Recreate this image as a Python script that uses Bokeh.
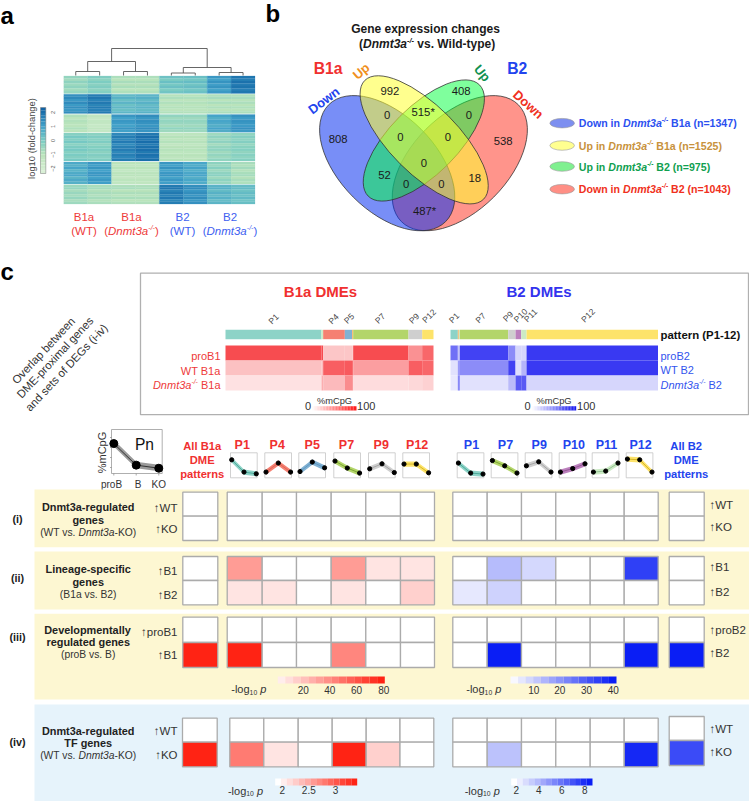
from bokeh.plotting import figure
from bokeh.embed import file_html
from bokeh.resources import INLINE
from bokeh.core.properties import value
from bokeh.models import Range1d

# ------------------------------ DATA ------------------------------
# panel a: log10 fold-change, six gene clusters x eight samples
fc_clusters = [
    [-0.5, -0.2, -0.9, -0.9, 0.1, 0.2, 1.1, 1.8],
    [1.3, 1.7, 0.4, 0.5, -1.0, -1.0, -0.9, -0.9],
    [-1.0, -1.4, 1.1, 1.3, -0.5, -0.5, 0.8, 1.2],
    [-0.1, -0.2, 1.6, 1.9, -1.1, -1.1, -0.5, -0.3],
    [0.7, 1.1, -1.2, -1.2, 1.1, 0.8, -0.4, -0.8],
    [-0.6, -0.8, -0.9, -0.9, 1.7, 1.3, 0.5, 0.3],
]
fc_cluster_sizes = [53, 58, 54, 83, 66, 58]
# row-to-row deviation inside each cluster, top to bottom
fc_row_dev = [
    [0.10, -0.12, 0.18, -0.05, 0.14, -0.15, 0.06],
    [0.05, 0.20, -0.10, 0.15, -0.18, 0.08, -0.14, 0.12],
    [0.15, -0.10, 0.12, 0.02, -0.14, 0.16, -0.08],
    [-0.10, 0.14, -0.04, 0.18, -0.15, 0.06, 0.16, -0.12, 0.10, -0.06, 0.14],
    [0.12, -0.08, 0.20, -0.14, 0.06, 0.16, -0.16, 0.10, -0.05],
    [0.06, 0.16, -0.12, 0.10, -0.08, 0.14, -0.14, 0.04],
]
dendro_pair_heights = [4, 4, 2.5, 3]
dendro_group_heights = [14, 8]
dendro_root_height = 27
fc_ticks = [2, 1, 0, -1, -2]
sample_groups = [("B1a", "(WT)"), ("B1a", "KO"), ("B2", "(WT)"), ("B2", "KO")]

# panel b: Venn counts
venn_counts = ["992", "408", "0", "515*", "0", "808", "0", "0", "538", "0", "52", "18", "0", "0", "487*"]
venn_legend = [
    ("Down in ", " B1a (n=1347)"),
    ("Up in ", " B1a (n=1525)"),
    ("Up in ", " B2 (n=975)"),
    ("Down in ", " B2 (n=1043)"),
]

# panel c: DME heatmaps, segment sizes and %mCpG/100 for proB, WT, KO
b1a_seg_sizes = [288, 5, 65, 22, 3, 166, 41, 34]
b1a_seg_names = ["P1", "x", "P4", "P5", "o", "P7", "P9", "P12"]
b1a_heat_proB = [0.78, 0.78, 0.25, 0.25, 0.25, 0.78, 0.48, 0.66]
b1a_heat_WT = [0.27, 0.30, 0.70, 0.72, 0.72, 0.42, 0.70, 0.66]
b1a_heat_KO = [0.13, 0.35, 0.30, 0.50, 0.50, 0.15, 0.17, 0.20]
b2_seg_sizes = [22, 3, 3, 145, 22, 17, 16, 394]
b2_seg_names = ["P1", "o", "x", "P7", "P9", "P10", "P11", "P12"]
b2_heat_proB = [0.62, 0.30, 0.30, 0.82, 0.50, 0.18, 0.18, 0.86]
b2_heat_WT = [0.13, 0.50, 0.50, 0.50, 0.82, 0.14, 0.32, 0.86]
b2_heat_KO = [0.10, 0.60, 0.60, 0.13, 0.30, 0.72, 0.72, 0.18]

# methylation pattern profiles (proB, B, KO), relative height
Pn_profile = [0.68, 0.19, 0.12]
b1a_patterns = ["P1", "P4", "P5", "P7", "P9", "P12"]
b1a_profiles = [[.72, .23, .16], [.23, .59, .23], [.25, .63, .40], [.67, .39, .19], [.36, .56, .21], [.55, .55, .20]]
b2_patterns = ["P1", "P7", "P9", "P10", "P11", "P12"]
b2_profiles = [[.59, .19, .15], [.69, .48, .19], [.48, .64, .23], [.23, .37, .56], [.23, .27, .59], [.75, .72, .23]]

# -log10 p overlap tables: rows x (All, patterns...) ; scale noted per section
ii_b1a = [[0, 36, 0, 0, 36, 10, 10], [0, 10, 10, 0, 10, 0, 17]]
ii_b2 = [[0, 12, 7, 0, 0, 34, 0], [4, 8, 0, 0, 0, 0, 0]]
iii_b1a = [[0, 0, 0, 0, 0, 0, 0], [80, 80, 0, 0, 44, 0, 0]]
iii_b2 = [[0, 0, 0, 0, 0, 0, 0], [0, 40, 0, 0, 0, 40, 40]]
iv_b1a = [[2, 2, 2, 2, 2, 2, 2], [3.4, 2.84, 2.17, 2, 3.4, 2.3, 2]]
iv_b2 = [[2, 2, 2, 2, 2, 2, 2], [2, 3.9, 2, 2, 2, 8.7, 7.6]]
scale_iii_red_ticks = [20, 40, 60, 80]
scale_iii_blue_ticks = [10, 20, 30, 40]
scale_iv_red_ticks = [2, 2.5, 3]
scale_iv_blue_ticks = [2, 4, 6, 8]

# ------------------------------ STYLE ------------------------------
FONT = "Liberation Sans"
RED = "#EE3A3A"
BLUE = "#3344F0"
REDC = (255, 35, 20)
BLUEC = (10, 30, 245)
GRID = "#ABABAB"
PCOL = {"P1": "#8DD3C7", "P4": "#F58072", "P5": "#80B1D3", "P7": "#B3D56A", "P9": "#CFCFCF",
        "P10": "#BC80BD", "P11": "#CCEBC5", "P12": "#FDE36A", "o": "#FDB462", "x": "#CCEBC5"}
PDARK = {"P1": "#3B9E8E", "P4": "#D9604F", "P5": "#5590BC", "P7": "#6E9A22", "P9": "#9A9A9A",
         "P10": "#8A4C8C", "P11": "#86B886", "P12": "#C9A914"}

W_REG = dict(zip("abcdefghijklmnopqrstuvwxyz", [556,556,500,556,556,278,556,556,222,222,500,222,833,556,556,556,556,333,500,278,556,500,722,500,500,500]))
W_REG.update(dict(zip("ABCDEFGHIJKLMNOPQRSTUVWXYZ", [667,667,722,722,667,611,778,722,278,500,667,556,833,722,778,667,778,722,667,611,722,667,944,667,667,611])))
W_BOLD = dict(zip("abcdefghijklmnopqrstuvwxyz", [556,611,556,611,556,333,611,611,278,278,556,278,889,611,611,611,611,389,556,333,611,556,778,556,556,500]))
W_BOLD.update(dict(zip("ABCDEFGHIJKLMNOPQRSTUVWXYZ", [722,722,722,722,667,611,778,722,278,556,722,611,833,722,778,667,778,722,667,611,722,667,944,667,667,611])))
for d in (W_REG, W_BOLD):
    d.update({c: 556 for c in "0123456789"})
    d.update({" ": 278, "(": 333, ")": 333, "-": 333, "/": 278, ".": 278, "=": 584, "*": 389, "%": 889})


def tw(s, size, bold=False):
    t = W_BOLD if bold else W_REG
    return sum(t.get(c, 556) for c in s) * size / 1000


p = figure(width=749, height=801, x_range=Range1d(0, 749), y_range=Range1d(801, 0),
           output_backend="svg", toolbar_location=None, min_border=0,
           x_axis_location=None, y_axis_location=None)
p.grid.visible = False
p.outline_line_color = None
p.background_fill_color = "white"
p.border_fill_color = "white"


def T(x, y, s, size=11, color="#222222", bold=False, italic=False, align="center", angle=0, base="middle"):
    st = "bold" if bold else "normal"
    if italic:
        st = "bold italic" if bold else "italic"
    p.text([x], [y], text=[s], text_font=value(FONT), text_font_size=f"{size}px", text_color=color,
           text_font_style=st, text_align=align, text_baseline=base, angle=angle, angle_units="deg")


def rich(x, y, parts, size=11, color="#222222", bold=False, align="left"):
    def sz(kind):
        return size * 0.62 if kind in ("sup", "sub") else size
    total = sum(tw(s, sz(k), bold) for s, k in parts)
    cur = x - (total if align == "right" else total / 2 if align == "center" else 0)
    for s, k in parts:
        dy = -size * 0.3 if k == "sup" else size * 0.3 if k == "sub" else 0
        lead = len(s) - len(s.lstrip(" "))
        if s.strip():
            T(cur + tw(" " * lead, sz(k), bold), y + dy, s.strip(), sz(k), color, bold,
              italic=(k == "i" or k == "sup"), align="left")
        cur += tw(s, sz(k), bold)


def box(l, r, t, b, fill=None, line=None, lw=1.0):
    p.quad(left=[l], right=[r], top=[t], bottom=[b], fill_color=fill, line_color=line, line_width=lw,
           fill_alpha=1 if fill else 0)


def lerp(c, f):
    f = max(0, min(1, f))
    return "#%02x%02x%02x" % tuple(int(round(255 + (k - 255) * f)) for k in c)


FC_ANCH = [(-2.5, (224, 243, 219)), (-1, (186, 228, 188)), (0, (123, 204, 196)), (1, (67, 162, 202)), (2.5, (8, 88, 158))]


def fc_color(v):
    for (a, ca), (b, cb) in zip(FC_ANCH, FC_ANCH[1:]):
        if v <= b:
            f = max(0, (v - a) / (b - a))
            return "#%02x%02x%02x" % tuple(int(ca[i] + (cb[i] - ca[i]) * f) for i in range(3))
    return "#08589e"


# ------------------------------ panel letters ------------------------------
T(0, 15, "a", 24, "#000000", True, align="left")
T(265, 13, "b", 24, "#000000", True, align="left")
T(0, 271, "c", 24, "#000000", True, align="left")

# ------------------------------ panel a ------------------------------
HX0, HCOL = 63.3, 23.9
HY0, HY1 = 75.0, 204.0
total = sum(fc_cluster_sizes)
y = HY0
for row, n, dev in zip(fc_clusters, fc_cluster_sizes, fc_row_dev):
    h = (HY1 - HY0) * n / total
    sub = (h - 0.8) / len(dev)
    for j, v in enumerate(row):
        for k, d in enumerate(dev):
            c = fc_color(v + d * (1 if j % 2 == 0 else 0.8))
            box(HX0 + j * HCOL, HX0 + (j + 1) * HCOL, y + 0.4 + k * sub, y + 0.4 + (k + 1) * sub, fill=c, line=c, lw=0.2)
    y += h
leaf = [HX0 + (j + 0.5) * HCOL for j in range(8)]
BASE = 75.0
pair_x, pair_y = [], []
for i, h in enumerate(dendro_pair_heights):
    a, b = leaf[2 * i], leaf[2 * i + 1]
    yy = BASE - h
    p.line([a, a, b, b], [BASE, yy, yy, BASE], line_color="#555555", line_width=0.9)
    pair_x.append((a + b) / 2)
    pair_y.append(yy)
grp_x, grp_y = [], []
for i, h in enumerate(dendro_group_heights):
    a, b = pair_x[2 * i], pair_x[2 * i + 1]
    yy = BASE - h
    p.line([a, a, b, b], [pair_y[2 * i], yy, yy, pair_y[2 * i + 1]], line_color="#555555", line_width=0.9)
    grp_x.append((a + b) / 2)
    grp_y.append(yy)
yy = BASE - dendro_root_height
p.line([grp_x[0], grp_x[0], grp_x[1], grp_x[1]], [grp_y[0], yy, yy, grp_y[1]], line_color="#555555", line_width=0.9)

CB_T, CB_B = 107.0, 173.0
N = 24
for i in range(N):
    v = 2.36 - 4.72 * (i + 0.5) / N
    box(40, 45.3, CB_T + (CB_B - CB_T) * i / N, CB_T + (CB_B - CB_T) * (i + 1) / N, fill=fc_color(v))
box(40, 45.3, CB_T, CB_B, line="#777777", lw=0.5)
for t in fc_ticks:
    T(52, 140 - t * 14, str(t).replace("-", "\u2212"), 5.5, "#555555", angle=90)
T(31, 138, "log10 (fold-change)", 9.4, "#444444", angle=90)
for (g, sub), cx in zip(sample_groups, [83.5, 131, 182, 229.5]):
    col = RED if g == "B1a" else "#4060F0"
    T(cx, 216, g, 11.5, col)
    if sub == "KO":
        rich(cx, 230.5, [("(", "n"), ("Dnmt3a", "i"), ("-/-", "sup"), (")", "n")], 11.5, col, align="center")
    else:
        T(cx, 230.5, sub, 11.5, col)

# ------------------------------ panel b ------------------------------
VX = lambda z: 250 + z / 3
VY = lambda z: z / 3
venn_shape = [  # zoomed-reference geometry: cx, cy, major, minor, angle, colour, alpha
    (628, 488, 248, 144, 45, "#FF2A18", 0.5),
    (410, 488, 248, 144, -45, "#0A32F0", 0.55),
    (520, 420, 236, 102, 45, "#00FF3C", 0.5),
    (521, 418, 252, 102, -45, "#FFFF32", 0.55),
]
for cx, cy, a, b, ang, c, al in venn_shape:
    p.ellipse([VX(cx)], [VY(cy)], width=2 * a / 3, height=2 * b / 3, angle=ang, angle_units="deg",
              fill_color=c, fill_alpha=al, line_color="#333333", line_width=0.8)
venn_pos = [(418, 272), (632, 272), (410, 343), (518, 333), (655, 343), (263, 415), (450, 408), (592, 408),
            (758, 420), (520, 487), (402, 522), (673, 533), (467, 550), (573, 550), (522, 630)]
for s, (x, y) in zip(venn_counts, venn_pos):
    T(VX(x), VY(y), s, 11.3, "#1a1a1a")
T(VX(525), VY(85), "Gene expression changes", 12, "#1a1a1a", True)
rich(VX(530), VY(130), [("(", "n"), ("Dnmt3a", "i"), ("-/-", "sup"), (" vs. Wild-type)", "n")], 12, "#1a1a1a", True, "center")
T(VX(233), VY(205), "B1a", 15.7, "#F03030", True)
T(VX(800), VY(205), "B2", 15.7, "#2244EE", True)
T(VX(332), VY(212), "Up", 13, "#F09020", True, angle=40)
T(VX(695), VY(218), "Up", 13, "#109050", True, angle=-50)
T(VX(220), VY(300), "Down", 13, "#2244EE", True, angle=37)
T(VX(833), VY(312), "Down", 13, "#F03020", True, angle=-42)
leg_cols = ["#2B50F0", "#C8923C", "#10A050", "#F03020"]
leg_fill = ["#7D8FF0", "#FFFF90", "#80F090", "#FF8F85"]
for (a, b), c, f, z in zip(venn_legend, leg_cols, leg_fill, [368, 435, 498, 566]):
    p.ellipse([VX(935)], [VY(z)], width=24.5, height=9.5, fill_color=f, line_color="#999999", line_width=0.6)
    rich(VX(985), VY(z), [(a, "n"), ("Dnmt3a", "i"), ("-/-", "sup"), (b, "n")], 10.6, c, True)

# ------------------------------ panel c, DME box ------------------------------
box(140, 748, 272.7, 414.2, fill="white", line="#B0B0B0", lw=1.3)
T(320, 290.7, "B1a DMEs", 15, "#F03030", True)
T(538.5, 290.7, "B2 DMEs", 15, "#3333EE", True)
for s, (x, y) in zip(["Overlap between", "DME-proximal genes", "and sets of DEGs (i-iv)"], [(43, 350), (54.5, 357), (66, 367)]):
    T(x, y, s, 11.4, "#333333", angle=47)


def dme(x0, x1, sizes, names, rows, end):
    tot = sum(sizes)
    cur = x0
    for i, (n, name) in enumerate(zip(sizes, names)):
        nx = cur + (x1 - x0) * n / tot
        box(cur, nx, 329.3, 338.7, fill=PCOL[name])
        for r, (vals, ya) in enumerate(zip(rows, [345, 360, 375])):
            box(cur, nx, ya, ya + 15, fill=lerp(end, vals[i]))
        cur = nx


dme(225, 433, b1a_seg_sizes, b1a_seg_names, [b1a_heat_proB, b1a_heat_WT, b1a_heat_KO], (245, 25, 30))
dme(450, 657.5, b2_seg_sizes, b2_seg_names, [b2_heat_proB, b2_heat_WT, b2_heat_KO], (25, 25, 240))
for s, x, y in zip(["P1", "P4", "P5", "P7", "P9", "P12"], [273, 333, 348.5, 379.5, 413.5, 428.5], [318.5, 318.5, 318, 318, 318, 315.5]):
    T(x, y, s, 8.5, "#444444", angle=45)
for s, x, y in zip(["P1", "P7", "P9", "P10", "P11", "P12"], [453.5, 480, 507.5, 520, 530, 587.5], [317.5, 317.5, 316, 315, 315, 315]):
    T(x, y, s, 8.5, "#444444", angle=45)
T(220, 355.5, "proB1", 11, "#EE3A3A", align="right")
T(220, 370, "WT B1a", 11, "#EE3A3A", align="right")
rich(220, 384.5, [("Dnmt3a", "i"), ("-/-", "sup"), (" B1a", "n")], 11, "#EE3A3A", align="right")
T(660, 355, "proB2", 11, "#3355EE", align="left")
T(660, 369, "WT B2", 11, "#3355EE", align="left")
rich(660, 384, [("Dnmt3a", "i"), ("-/-", "sup"), (" B2", "n")], 11, "#3355EE")
T(660, 334.5, "pattern (P1-12)", 11.4, "#111111", True, align="left")
for x0, x1, lab0, lab1, end, lx in [(311.7, 356, 307.5, 365.7, (255, 20, 20), 334), (531.7, 575.7, 527, 585.7, (20, 20, 240), 553.5)]:
    for i in range(30):
        box(x0 + (x1 - x0) * i / 30, x0 + (x1 - x0) * (i + 1) / 30, 405.7, 410, fill=lerp(end, (i + 0.5) / 30))
    T(lab0, 405, "0", 11, "#333333")
    T(lab1, 405, "100", 11, "#333333")
    T(lx, 400, "%mCpG", 9.3, "#333333")

# ------------------------------ pattern header ------------------------------
p.line([111, 111, 161.7, 161.7], [473, 429, 429, 473], line_color="#9A9A9A", line_width=0.8)
p.line([111, 161.7], [473, 473], line_color="#9A9A9A", line_width=0.8)
px = [113.3, 135.7, 158.3]
py = [473 - 44 * v for v in Pn_profile]
p.patch(px + px[::-1], [v - 3.5 for v in py] + [v + 3 for v in py[::-1]], fill_color="#9A9A9A", line_color=None)
p.line(px, py, line_color="#333333", line_width=1)
p.scatter(px, py, size=8, fill_color="#000000", line_color="#000000")
p.segment(x0=[109.5] * 4, y0=[437, 447, 457, 467], x1=[111] * 4, y1=[437, 447, 457, 467], line_color="#888888", line_width=0.7)
p.segment(x0=px, y0=[473] * 3, x1=px, y1=[475] * 3, line_color="#888888", line_width=0.7)
T(144, 444, "Pn", 15.6, "#111111")
T(101, 452, "%mCpG", 11, "#333333", angle=90)
for s, x in zip(["proB", "B", "KO"], [111, 137.7, 158.3]):
    T(x, 483.5, s, 10, "#333333")


def mini(x0, prof, name):
    xs = [x0 + 1.2, x0 + 13.5, x0 + 25.8]
    ys = [477.3 - 25 * v for v in prof]
    box(x0, x0 + 26.7, 452.3, 477.3, fill="white", line="#BDBDBD", lw=0.7)
    p.patch(xs + xs[::-1], [v - 2.6 for v in ys] + [v + 2.6 for v in ys[::-1]], fill_color=PCOL[name], line_color=None)
    p.line(xs, ys, line_color=PDARK[name], line_width=0.8)
    p.scatter(xs, ys, size=4.2, fill_color="#000000", line_color="#000000")


for n, prof, x0, tx in zip(b1a_patterns, b1a_profiles, [230, 264.3, 298.3, 333.3, 368, 402.3], [241.7, 276.7, 311.7, 346, 380.7, 416.7]):
    mini(x0, prof, n)
    T(tx, 444, n, 12.5, "#F03030", True)
for n, prof, x0, tx in zip(b2_patterns, b2_profiles, [456.7, 490.7, 524.7, 558.7, 591.7, 625.7], [471, 505, 538.7, 573.3, 606, 640]):
    mini(x0, prof, n)
    T(tx, 444, n, 12.5, "#2244EE", True)
for s, y in zip(["All B1a", "DME", "patterns"], [445, 459.5, 473.5]):
    T(201.7, y, s, 11.2, "#F03030", True)
for s, y in zip(["All B2", "DME", "patterns"], [445, 459.5, 473.5]):
    T(685.7, y, s, 11.2, "#2244EE", True)

# ------------------------------ bands ------------------------------
BAND_Y = "#FDF7D2"
BAND_B = "#E6F3FB"
for t, b, c in [(489, 546.7, BAND_Y), (551, 609, BAND_Y), (613.3, 699, BAND_Y), (704, 801, BAND_B)]:
    box(34, 749, t, b, fill=c)


def cell_row(edges, ytop, ymid, ybot, row_a, row_b, norm, end):
    for i in range(len(edges) - 1):
        for v, (ya, yb) in zip((row_a[i], row_b[i]), ((ytop, ymid), (ymid, ybot))):
            box(edges[i], edges[i + 1], ya, yb, fill=lerp(end, norm(v)) if v else "#ffffff", line=GRID, lw=1.3)


B1A_E = [226.7, 261.7, 296, 330.7, 365.3, 400, 434]
B2_E = [452.3, 486.7, 521, 555.3, 589.7, 623.7, 657.7]
ALL1 = [182.3, 217.3]
ALL2 = [668.7, 703.7]
ZERO = [[0] * 7, [0] * 7]


def section(ytop, ymid, ybot, m1, m2, n1, n2, e1=B1A_E, a1=ALL1, y2=None):
    cell_row(a1, ytop, ymid, ybot, m1[0][:1], m1[1][:1], n1, REDC)
    cell_row(e1, ytop, ymid, ybot, m1[0][1:], m1[1][1:], n1, REDC)
    # the last entry of the blue table is its "All B2" column
    cell_row(B2_E, ytop, ymid, ybot, m2[0][:6], m2[1][:6], n2, BLUEC)
    t2, m2y, b2y = y2 if y2 else (ytop, ymid, ybot)
    cell_row(ALL2, t2, m2y, b2y, m2[0][6:], m2[1][6:], n2, BLUEC)


n80 = lambda v: v / 80
n40 = lambda v: v / 40
niv_r = lambda v: (v - 2) / 1.4
niv_b = lambda v: (v - 2) / 7
section(491.7, 515.7, 540, ZERO, ZERO, n80, n40)
section(556, 580, 604.3, ii_b1a, ii_b2, n80, n40)
section(616.7, 642, 667, iii_b1a, iii_b2, n80, n40)
section(717.7, 741.7, 766.3, iv_b1a, iv_b2, niv_r, niv_b,
        e1=[229.3, 263.3, 297.7, 331.7, 365.7, 399.5, 433.3], a1=[182, 216.7], y2=(716, 740, 765))


def arrow_lab(x, y, s, size=11.5, align="left", col="#333333"):
    T(x, y, "\u2191" + s, size, col, align=align)


for s, y in [("(i)", 518), ("(ii)", 577.5), ("(iii)", 636.7), ("(iv)", 741.7)]:
    T(17, y, s, 10.8, "#222222", True)
T(87.7, 506, "Dnmt3a-regulated", 10.9, "#222222", True)
T(87.7, 519, "genes", 10.9, "#222222", True)
rich(87.7, 531.7, [("(WT vs. ", "n"), ("Dnmt3a", "i"), ("-KO)", "n")], 10.3, "#333333", align="center")
T(87.7, 568.3, "Lineage-specific", 10.9, "#222222", True)
T(87.7, 581, "genes", 10.9, "#222222", True)
T(87.7, 594, "(B1a vs. B2)", 10.3, "#333333")
T(87, 629.3, "Developmentally", 10.9, "#222222", True)
T(87.7, 641.7, "regulated genes", 10.9, "#222222", True)
T(87.7, 654.3, "(proB vs. B)", 10.3, "#333333")
T(87.7, 730, "Dnmt3a-regulated", 10.9, "#222222", True)
T(87.7, 742.7, "TF genes", 10.9, "#222222", True)
rich(87.7, 755, [("(WT vs. ", "n"), ("Dnmt3a", "i"), ("-KO)", "n")], 10.3, "#333333", align="center")
for s, y in [("WT", 507.5), ("KO", 528.5), ("B1", 570), ("B2", 594), ("proB1", 631.5), ("B1", 654), ("WT", 730.5), ("KO", 754)]:
    arrow_lab(177, y, s, align="right")
for s, y in [("WT", 504.5), ("KO", 526), ("B1", 566.5), ("B2", 591.5), ("proB2", 629.3), ("B2", 652.3), ("WT", 728.3), ("KO", 751)]:
    arrow_lab(709, y, s)


def steps(x0, x1, yt, yb, end, n=14, start=0.08):
    for i in range(n):
        f = start + (1 - start) * i / (n - 1)
        box(x0 + (x1 - x0) * i / n, x0 + (x1 - x0) * (i + 1) / n, yt, yb, fill=lerp(end, f))


def loglab(x, y):
    rich(x, y, [("-log", "n"), ("10", "sub"), (" ", "n"), ("p", "i")], 11, "#333333", align="center")


steps(277.3, 384.3, 676, 683, REDC)
steps(510, 616, 676, 683, BLUEC, start=0.03)
steps(274.7, 356.7, 778, 785, REDC, start=0)
steps(510.7, 592, 778, 785, BLUEC, start=0)
for t, x in zip(scale_iii_red_ticks, [302.7, 329.3, 356, 383.3]):
    T(x, 689, str(t), 10, "#333333")
for t, x in zip(scale_iii_blue_ticks, [533.3, 559.3, 586, 612.7]):
    T(x, 689, str(t), 10, "#333333")
for t, x in zip(scale_iv_red_ticks, [281.7, 308.3, 335]):
    T(x, 789.5, str(t), 10, "#333333")
for t, x in zip(scale_iv_blue_ticks, [515.7, 538.3, 561.3, 584.3]):
    T(x, 789.5, str(t), 10, "#333333")
loglab(248.3, 688.5)
loglab(483.3, 688.5)
loglab(245, 790)
loglab(481.7, 790)

open("out.html", "w").write(file_html(p, INLINE))
